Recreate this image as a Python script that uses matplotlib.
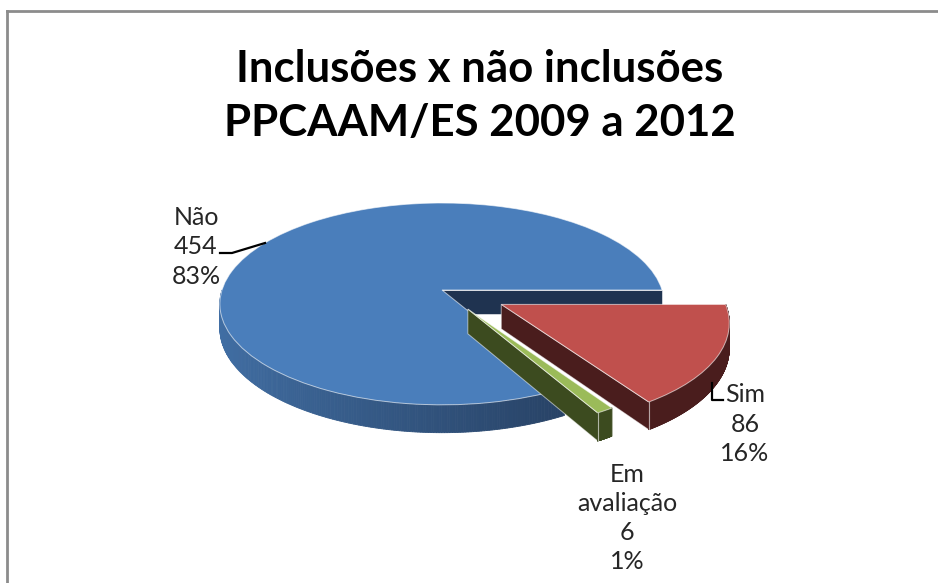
import numpy as np
import matplotlib
matplotlib.use("Agg")
import matplotlib.pyplot as plt
from matplotlib.transforms import Transform
from matplotlib.patches import Polygon
from matplotlib.lines import Line2D
import matplotlib.colors as mcolors

# ---- data ----
categories = ["Não", "Em\navaliação", "Sim"]
values = [454, 6, 86]
percent_labels = ["83%", "1%", "16%"]
explode = [0.0, 0.22, 0.30]
top_colors = ["#4A7EBB", "#9BBB59", "#C0504D"]
side_colors = ["#1F3350", "#3C4B1F", "#4A1D1D"]
title = "Inclusões x não inclusões\nPPCAAM/ES 2009 a 2012"

W, H = 938, 583
fig = plt.figure(figsize=(W / 100, H / 100), dpi=100)
ax = fig.add_axes([0, 0, 1, 1])

# pie geometry (pixel space, y from bottom)
CX, CY = 442, H - 290
R = 220
RT = 99          # vertical semi-axis before perspective
K = 0.138        # perspective strength
DEPTH = 24


class Persp(Transform):
    """Tilted disc with simple perspective: unit-disc coords -> pixel coords."""
    input_dims = 2
    output_dims = 2

    def __init__(self, dz=0.0):
        super().__init__()
        self.dz = dz

    def transform_non_affine(self, values):
        v = np.asarray(values, dtype=float)
        u, w = v[:, 0], v[:, 1]
        s = 1.0 / (1.0 + K * w)
        return np.column_stack([CX + R * u * s, CY + RT * w * s - self.dz * s])

    def inverted(self):
        raise NotImplementedError


top_tr = Persp(0.0)
bot_tr = Persp(DEPTH)

wedges, _ = ax.pie(values, explode=explode, startangle=0, counterclock=True,
                   colors=top_colors, radius=1.0, center=(0, 0))

ax.set_xlim(0, W)
ax.set_ylim(0, H)
ax.set_aspect("auto")
ax.axis("off")


def pt(tr, x, y):
    return tr.transform(np.array([[x, y]]))[0]


for i, w in enumerate(wedges):
    t1, t2 = w.theta1, w.theta2
    ox, oy = w.center
    base = np.array(mcolors.to_rgb(side_colors[i]))
    light = np.array(mcolors.to_rgb(top_colors[i])) * 0.88
    z = 2 + 3 * i
    # radial faces
    for th, nrm in ((t1, t1 - 90), (t2, t2 + 90)):
        if np.sin(np.radians(nrm)) < 0:
            ex, ey = ox + np.cos(np.radians(th)), oy + np.sin(np.radians(th))
            pts = [pt(top_tr, ox, oy), pt(top_tr, ex, ey),
                   pt(bot_tr, ex, ey), pt(bot_tr, ox, oy)]
            ax.add_patch(Polygon(pts, closed=True, facecolor=side_colors[i],
                                 edgecolor=(1, 1, 1, 0.55), lw=0.7, zorder=z))
    # outer wall (front part) with gradient
    ths = np.linspace(t1, t2, 500)
    for a, b in zip(ths[:-1], ths[1:]):
        m = np.radians(0.5 * (a + b))
        if np.sin(m) >= 0:
            continue
        f = (1 - np.cos(m)) / 2
        col = base * (1 - f) + light * f if i == 0 else base
        pa = (ox + np.cos(np.radians(a)), oy + np.sin(np.radians(a)))
        pb = (ox + np.cos(np.radians(b)), oy + np.sin(np.radians(b)))
        pts = [pt(top_tr, *pa), pt(top_tr, *pb), pt(bot_tr, *pb), pt(bot_tr, *pa)]
        ax.add_patch(Polygon(pts, closed=True, facecolor=col, edgecolor=col,
                             lw=0.6, zorder=z))
    # end edges of the wall (thin light lines)
    for th in (t1, t2):
        if np.sin(np.radians(th)) < 0:
            ex, ey = ox + np.cos(np.radians(th)), oy + np.sin(np.radians(th))
            p1, p2 = pt(top_tr, ex, ey), pt(bot_tr, ex, ey)
            ax.add_line(Line2D([p1[0], p2[0]], [p1[1], p2[1]],
                               color=(1, 1, 1, 0.6), lw=0.8, zorder=z))
    # top face from the pie wedge
    w.set_transform(top_tr + ax.transData)
    w.set_zorder(z + 1)
    w.set_edgecolor((1, 1, 1, 0.6))
    w.set_linewidth(0.7)

# labels
lab_font = dict(fontsize=18, family="Lato", color="#262626", ha="center",
                va="center", linespacing=1.32)
ax.text(196, H - 247, f"{categories[0]}\n{values[0]}\n{percent_labels[0]}", **lab_font)
ax.text(745, H - 424, f"{categories[2]}\n{values[2]}\n{percent_labels[2]}", **lab_font)
ax.text(627, H - 518, f"{categories[1]}\n{values[1]}\n{percent_labels[1]}", **lab_font)

# leader lines
ax.add_line(Line2D([220, 232, 265], [H - 253, H - 253, H - 243], color="black", lw=1.6, zorder=20))
ax.add_line(Line2D([712, 712, 723], [H - 383, H - 400, H - 400], color="black", lw=1.6, zorder=20))

# title
ax.text(480, H - 96, title, fontsize=31.5, fontweight="bold", family="Lato",
        ha="center", va="center", linespacing=1.42, color="black")

# chart border (top and left)
ax.add_line(Line2D([7, W], [H - 11, H - 11], color="#8C8C8C", lw=2, zorder=30))
ax.add_line(Line2D([7, 7], [H - 11, 0], color="#8C8C8C", lw=2, zorder=30))

fig.savefig("out.png", dpi=100)
